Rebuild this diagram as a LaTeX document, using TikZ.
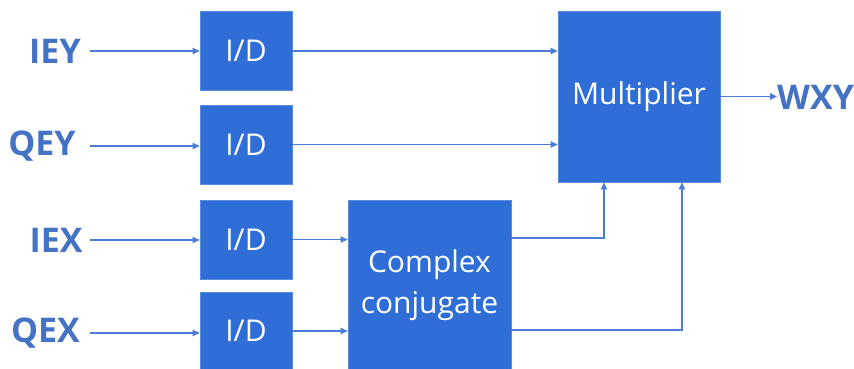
\documentclass[tikz,border=0pt]{standalone}
\usepackage{fontspec}
\setmainfont{Open Sans}
\usetikzlibrary{arrows.meta}
\definecolor{boxblue}{HTML}{2F6ED7}
\definecolor{labblue}{HTML}{4472C4}
\definecolor{lineblue}{HTML}{4A7ED6}
\tikzset{
  blk/.style={rectangle, fill=boxblue, draw=boxblue!80!white, line width=0.8pt, inner sep=0pt,
    text=white, font=\fontsize{30}{41}\selectfont, align=center},
  lab/.style={text=labblue, font=\fontsize{34}{40}\selectfont\bfseries, inner sep=0pt},
  arr/.style={draw=lineblue, line width=1.1pt, -{Triangle[length=7pt,width=6.5pt]}},
}
\begin{document}
\begin{tikzpicture}[x=1pt,y=-1pt]
\useasboundingbox (0,0) rectangle (854,369);
% blocks
\node[blk, minimum width=92, minimum height=79] (id1) at (246,50.5) {I/D};
\node[blk, minimum width=92, minimum height=79] (id2) at (246,144.5) {I/D};
\node[blk, minimum width=92, minimum height=79] (id3) at (246,239.5) {I/D};
\node[blk, minimum width=92, minimum height=78] (id4) at (246,331) {I/D};
\node[blk, minimum width=163, minimum height=170] (cc) at (429.5,285) {Complex\\conjugate};
\node[blk, minimum width=162, minimum height=171] (mult) at (639,96.5) {Multiplier};
% labels
\node[lab] (iey) at (55,51) {IEY};
\node[lab] (qey) at (42,146) {QEY};
\node[lab] (iex) at (56,240) {IEX};
\node[lab] (qex) at (45.5,333) {QEX};
\node[lab, anchor=west] (wxy) at (777,97) {WXY};
% connector helper points
\coordinate (sx) at (90,0);
\coordinate (c1) at (604,238);
\coordinate (c2) at (682,330);
% connectors
\draw[arr] (sx |- iey) -- (id1.west |- iey);
\draw[arr] (sx |- qey) -- (id2.west |- qey);
\draw[arr] (sx |- iex) -- (id3.west |- iex);
\draw[arr] (sx |- qex) -- (id4.west |- qex);
\draw[arr] (id1.east |- iey) -- (mult.west |- iey);
\draw[arr] (id2.east) -- (mult.west |- id2.east);
\draw[arr] (id3.east) -- (cc.west |- id3.east);
\draw[arr] (id4.east) -- (cc.west |- id4.east);
\draw[arr] (cc.east |- c1) -| (mult.south -| c1);
\draw[arr] (cc.east |- c2) -| (mult.south -| c2);
\draw[arr] (mult.east) -- (wxy.west |- mult.east);
\end{tikzpicture}
\end{document}
